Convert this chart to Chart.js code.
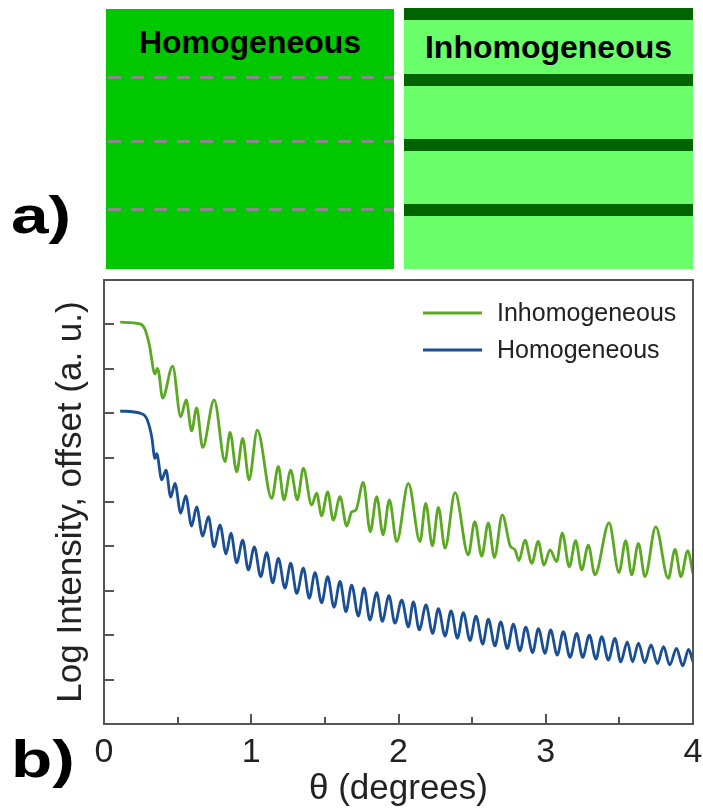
<!DOCTYPE html>
<html>
<head>
<meta charset="utf-8">
<title>Homogeneous vs inhomogeneous reflectivity</title>
<script src="https://cdn.jsdelivr.net/npm/chart.js@4.4.1/dist/chart.umd.min.js"></script>
<style>
  body { margin: 0; width: 703px; height: 810px; position: relative; background: #fff; overflow: hidden;
         font-family: "Liberation Sans", Arial, sans-serif; }
  .panel { position: absolute; overflow: hidden; }
  .panel-title { position: absolute; left: 0; right: 0; text-align: center; font-weight: bold;
                 font-size: 32px; line-height: 32px; color: #000; }
  .dash { position: absolute; left: 2px; right: 0; height: 3px;
          background: repeating-linear-gradient(to right, #8a8a8a 0 13px, transparent 13px 23px); }
  .stripe { position: absolute; left: 0; right: 0; height: 12px; background: #006400; }
  .tag { position: absolute; left: 11px; font-weight: bold; font-size: 52px; line-height: 52px; color: #000;
         transform: scaleX(1.3); transform-origin: left top; }
  #plotBox { position: absolute; left: 0; top: 270px; width: 703px; height: 540px; }
</style>
</head>
<body>

<!-- a) schematic -->
<div class="panel" style="left:106px; top:9px; width:288px; height:260px; background:#00c800;">
  <div class="panel-title" style="top:17px;">Homogeneous</div>
  <div class="dash" style="top:67px;"></div>
  <div class="dash" style="top:131px;"></div>
  <div class="dash" style="top:199px;"></div>
</div>
<div class="panel" style="left:404px; top:8px; width:289px; height:261px; background:#6aff6a;">
  <div class="stripe" style="top:0;"></div>
  <div class="panel-title" style="top:23px;">Inhomogeneous</div>
  <div class="stripe" style="top:66px;"></div>
  <div class="stripe" style="top:131px;"></div>
  <div class="stripe" style="top:196px;"></div>
</div>

<!-- b) reflectivity -->
<div id="plotBox"><canvas id="reflChart"></canvas></div>

<div class="tag" style="top:189px;">a)</div>
<div class="tag" style="top:733px;">b)</div>

<script>
// --- Data (theta in degrees, log intensity with offset) ---
const inhomTheta = [0.11, 0.245, 0.278, 0.308, 0.346, 0.362, 0.372, 0.398, 0.466, 0.521,
  0.558, 0.595, 0.629, 0.670, 0.748, 0.822, 0.856, 0.901, 0.942, 0.985,
  1.041, 1.139, 1.184, 1.222, 1.268, 1.313, 1.354, 1.410, 1.444, 1.478,
  1.519, 1.557, 1.603, 1.648, 1.682, 1.711, 1.761, 1.808, 1.852, 1.895,
  1.938, 1.988, 2.067, 2.146, 2.185, 2.230, 2.271, 2.316, 2.384, 2.474,
  2.518, 2.565, 2.610, 2.651, 2.705, 2.760, 2.790, 2.818, 2.859, 2.905,
  2.949, 2.988, 3.029, 3.074, 3.112, 3.160, 3.203, 3.244, 3.289, 3.334,
  3.430, 3.497, 3.543, 3.584, 3.629, 3.674, 3.747, 3.832, 3.878, 3.918,
  3.964, 4.0];
const inhomLogI = [9.05, 9.01, 8.89, 8.54, 7.88, 8.01, 7.92, 7.34, 8.06, 6.92,
  7.30, 6.60, 7.12, 6.23, 7.30, 5.91, 6.57, 5.68, 6.43, 5.50,
  6.62, 5.08, 5.80, 5.05, 5.72, 5.05, 5.76, 4.93, 5.20, 4.69,
  5.23, 4.59, 5.12, 4.46, 4.78, 4.82, 5.44, 4.33, 5.12, 4.26,
  5.05, 4.11, 5.42, 4.11, 4.97, 4.01, 4.88, 3.96, 5.21, 3.81,
  4.56, 3.78, 4.53, 3.75, 4.71, 4.00, 3.93, 3.68, 4.14, 3.62,
  4.11, 3.58, 3.92, 3.66, 4.30, 3.54, 4.13, 3.47, 4.03, 3.36,
  4.53, 3.41, 4.13, 3.36, 4.07, 3.32, 4.44, 3.28, 3.93, 3.32,
  3.90, 3.39];

const homTheta = [0.11, 0.245, 0.29, 0.324, 0.346, 0.358, 0.392, 0.421, 0.453, 0.482,
  0.521, 0.555, 0.595, 0.629, 0.670, 0.709, 0.747, 0.788, 0.829, 0.862,
  0.901, 0.942, 0.980, 1.021, 1.064, 1.105, 1.146, 1.184, 1.229, 1.268,
  1.309, 1.354, 1.394, 1.433, 1.478, 1.519, 1.562, 1.603, 1.643, 1.682,
  1.727, 1.766, 1.806, 1.852, 1.890, 1.935, 1.976, 2.022, 2.067, 2.101,
  2.141, 2.187, 2.232, 2.271, 2.316, 2.357, 2.400, 2.440, 2.486, 2.526,
  2.572, 2.610, 2.655, 2.694, 2.739, 2.780, 2.825, 2.864, 2.911, 2.950,
  2.995, 3.033, 3.078, 3.119, 3.165, 3.210, 3.251, 3.296, 3.341, 3.380,
  3.425, 3.470, 3.509, 3.554, 3.589, 3.630, 3.672, 3.715, 3.758, 3.800,
  3.842, 3.888, 3.930, 3.970, 4.0];
const homLogI = [7.05, 7.00, 6.88, 6.47, 5.98, 6.09, 5.50, 5.72, 5.11, 5.42,
  4.75, 5.14, 4.46, 4.89, 4.23, 4.67, 3.99, 4.48, 3.83, 4.30,
  3.63, 4.14, 3.47, 3.99, 3.32, 3.86, 3.18, 3.73, 3.06, 3.62,
  2.94, 3.51, 2.83, 3.41, 2.73, 3.32, 2.63, 3.21, 2.53, 3.13,
  2.43, 3.06, 2.34, 2.96, 2.31, 2.89, 2.27, 2.79, 2.19, 2.75,
  2.12, 2.68, 2.04, 2.60, 1.98, 2.55, 1.93, 2.51, 1.88, 2.43,
  1.80, 2.36, 1.76, 2.30, 1.70, 2.25, 1.65, 2.18, 1.61, 2.15,
  1.59, 2.12, 1.55, 2.08, 1.50, 2.04, 1.50, 2.00, 1.46, 1.97,
  1.44, 1.93, 1.40, 1.85, 1.40, 1.82, 1.38, 1.78, 1.36, 1.74,
  1.33, 1.70, 1.31, 1.68, 1.40];

const xLabelled = [0, 1, 2, 3, 4];

const colors = {
  inhom: '#5ba823',
  hom: '#1a4f94',
  axis: '#555555',
  text: '#222222',
};
const fontFamily = "'Liberation Sans', Arial, sans-serif";

function toPoints(xs, ys) {
  return xs.map((x, i) => ({ x: x, y: ys[i] }));
}

// inward ticks, closed frame and the in-plot legend
const frameTicksLegend = {
  id: 'frameTicksLegend',
  afterDatasetsDraw(chart) {
    const { ctx, chartArea: a, scales: { x, y } } = chart;
    ctx.save();
    ctx.strokeStyle = colors.axis;
    ctx.lineWidth = 2;
    ctx.strokeRect(a.left, a.top, a.right - a.left, a.bottom - a.top);

    x.ticks.forEach(t => {
      if (t.value <= x.min || t.value >= x.max) return;
      const px = Math.round(x.getPixelForValue(t.value));
      const len = Number.isInteger(t.value) ? 10 : 7;
      ctx.beginPath();
      ctx.moveTo(px, a.bottom);
      ctx.lineTo(px, a.bottom - len);
      ctx.stroke();
    });
    y.ticks.forEach(t => {
      if (t.value <= y.min || t.value >= y.max) return;
      const py = Math.round(y.getPixelForValue(t.value));
      ctx.beginPath();
      ctx.moveTo(a.left, py);
      ctx.lineTo(a.left + 10, py);
      ctx.stroke();
    });

    // legend
    ctx.font = '25px ' + fontFamily;
    ctx.textBaseline = 'middle';
    chart.data.datasets.forEach((ds, i) => {
      const ly = a.top + 33 + i * 37;
      ctx.strokeStyle = ds.borderColor;
      ctx.lineWidth = 3;
      ctx.beginPath();
      ctx.moveTo(a.right - 270, ly);
      ctx.lineTo(a.right - 211, ly);
      ctx.stroke();
      ctx.fillStyle = colors.text;
      ctx.fillText(ds.label, a.right - 196, ly + 1);
    });
    ctx.restore();
  }
};

function drawReflectivityChart() {
  const ctx = document.getElementById('reflChart').getContext('2d');
  new Chart(ctx, {
    type: 'line',
    data: {
      datasets: [{
        label: 'Inhomogeneous',
        data: toPoints(inhomTheta, inhomLogI),
        borderColor: colors.inhom,
      }, {
        label: 'Homogeneous',
        data: toPoints(homTheta, homLogI),
        borderColor: colors.hom,
      }]
    },
    options: {
      responsive: true,
      maintainAspectRatio: false,
      animation: false,
      layout: { padding: { top: 10, right: 10, left: 0, bottom: 0 } },
      elements: {
        point: { radius: 0 },
        line: { borderWidth: 2.8, cubicInterpolationMode: 'monotone', fill: false }
      },
      plugins: { legend: { display: false }, tooltip: { enabled: false } },
      scales: {
        x: {
          type: 'linear', min: 0, max: 4,
          afterFit: s => { s.height = 86; s.paddingLeft = 0; s.paddingRight = 0; },
          grid: { display: false, drawTicks: false },
          border: { display: false },
          ticks: {
            stepSize: 0.5, autoSkip: false, maxRotation: 0, padding: 8,
            color: colors.text, font: { size: 34, family: fontFamily },
            callback: v => xLabelled.includes(v) ? String(v) : ''
          },
          title: {
            display: true, text: 'θ (degrees)', color: colors.text,
            font: { size: 35, family: fontFamily }, padding: 0
          }
        },
        y: {
          type: 'linear', min: 0, max: 10,
          afterFit: s => { s.width = 104; s.paddingTop = 0; s.paddingBottom = 0; },
          grid: { display: false, drawTicks: false },
          border: { display: false },
          ticks: { stepSize: 1, display: false },
          title: {
            display: true, text: 'Log Intensity, offset (a. u.)', color: colors.text,
            font: { size: 35, family: fontFamily }, padding: { top: 50, bottom: 0 }
          }
        }
      }
    },
    plugins: [frameTicksLegend]
  });
}

document.addEventListener('DOMContentLoaded', drawReflectivityChart);
</script>
</body>
</html>
